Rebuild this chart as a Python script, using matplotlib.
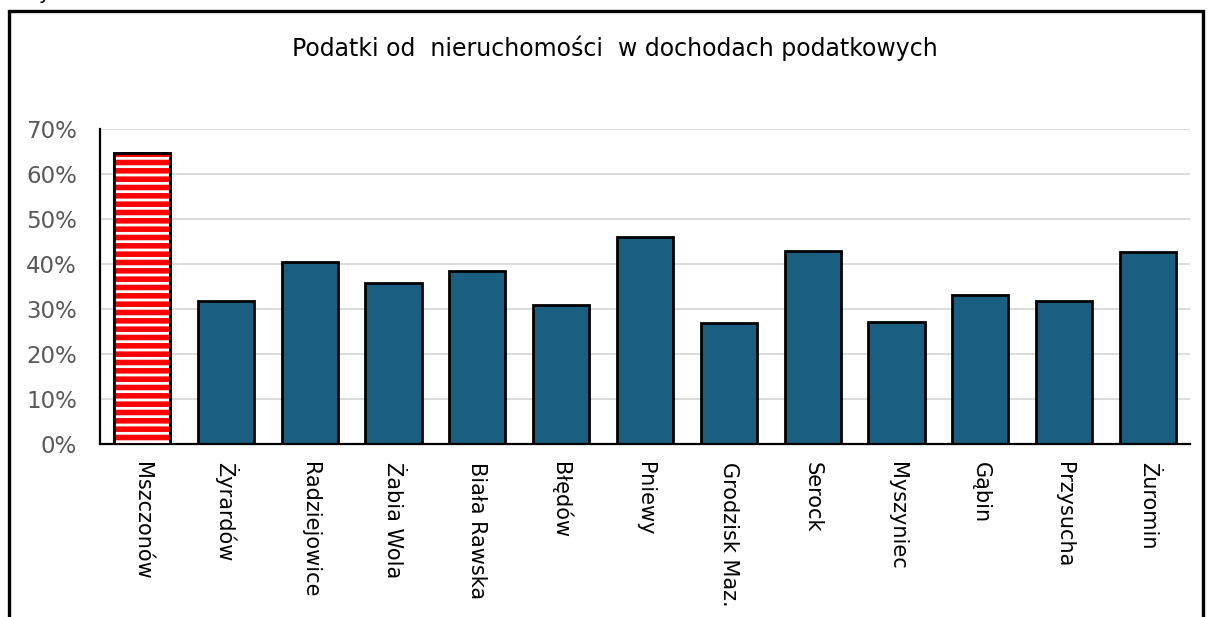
import matplotlib.pyplot as plt
from matplotlib.patches import Rectangle
from matplotlib.ticker import PercentFormatter

gminy = ['Mszczonów', 'Żyrardów', 'Radziejowice', 'Żabia Wola', 'Biała Rawska',
         'Błędów', 'Pniewy', 'Grodzisk Maz.', 'Serock', 'Myszyniec', 'Gąbin',
         'Przysucha', 'Żuromin']
udzial = [64.7, 31.8, 40.4, 35.8, 38.4, 30.9, 46.0, 26.9, 42.9, 27.1, 33.1, 31.8, 42.7]

plt.rcParams['font.family'] = ['DejaVu Sans']
plt.rcParams['hatch.linewidth'] = 4.0

fig = plt.figure(figsize=(12.08, 6.17), dpi=100)
ax = fig.add_axes([100/1208, 1 - 444/617, 1090/1208, 315/617])

x = list(range(len(gminy)))
kolory = ['white'] + ['#1a5e80'] * (len(gminy) - 1)
ax.bar(x, udzial, width=0.67, color=kolory, edgecolor='black', linewidth=2, zorder=2)
# red stripes on the first bar
ax.bar(x[0], udzial[0], width=0.67, color='white', edgecolor='red', hatch='--',
       linewidth=0, zorder=3)
ax.bar(x[0], udzial[0], width=0.67, fill=False, edgecolor='black', linewidth=2, zorder=4)

ax.set_ylim(0, 70)
ax.set_xlim(-0.5, len(gminy) - 0.5)
ax.set_yticks(range(0, 71, 10))
ax.yaxis.set_major_formatter(PercentFormatter(decimals=0))
ax.grid(axis='y', color='#d9d9d9', linewidth=1.3, zorder=0)
ax.set_axisbelow(True)
for s in ['top', 'right']:
    ax.spines[s].set_visible(False)
for s in ['left', 'bottom']:
    ax.spines[s].set_linewidth(1.6)
ax.tick_params(axis='y', length=0, labelsize=16.5, labelcolor='#595959', pad=16.5)
ax.tick_params(axis='x', length=0, labelsize=15, pad=13)
ax.set_xticks(x)
ax.set_xticklabels(gminy, rotation=270, va='top', ha='center')

fig.text(615/1208, 1 - 48/617, 'Podatki od  nieruchomości  w dochodach podatkowych',
         ha='center', va='center', fontsize=17)

# outer frame
fig.patches.append(Rectangle((9/1208, -0.1), 1194/1208, 1.1 - 11/617,
                             transform=fig.transFigure, fill=False,
                             edgecolor='black', linewidth=2.4))
fig.text(38/1208, 1 + 1/617, 'y', fontsize=14, va='baseline')

plt.savefig('out.png', dpi=100)
